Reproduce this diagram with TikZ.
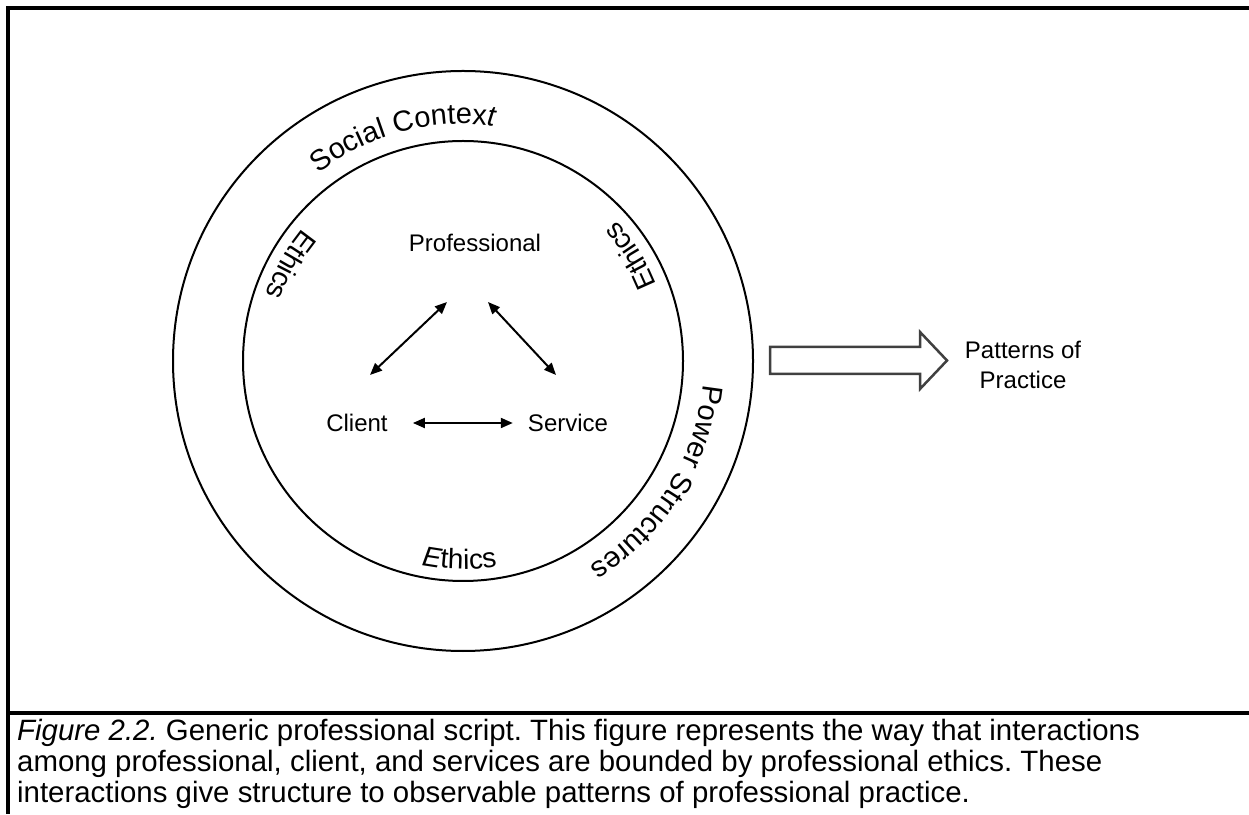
\documentclass[tikz,border=0pt]{standalone}
\usepackage{fontspec}
\setmainfont{Liberation Sans}
\usetikzlibrary{arrows.meta,decorations.text}
\newcommand{\ringfont}{\fontsize{29}{32}\selectfont}
\newcommand{\ethfont}{\fontsize{28}{30}\selectfont}
\frenchspacing
\begin{document}
\begin{tikzpicture}[x=1pt,y=1pt,
  frame/.style={line width=4pt},
  ring/.style={line width=2pt},
  lbl/.style={font=\fontsize{24}{30}\selectfont, inner sep=0pt},
  rel/.style={line width=2pt, {Triangle[length=12pt,width=10pt]}-{Triangle[length=12pt,width=10pt]}},
  captext/.style={font=\fontsize{29.4}{31}\selectfont, inner sep=0pt, anchor=base west},
  blockarrow/.style={line width=2.5pt, draw=black!75, fill=white, line join=miter}]
\useasboundingbox (0,0) rectangle (1249,814);
\draw[frame] (1249,806) -- (8,806) -- (8,0);
\draw[frame] (8,101) -- (1249,101);
\coordinate (c) at (463,453);
\draw[ring] (c) circle[radius=290];
\draw[ring] (c) circle[radius=220];
% outer ring texts
\path[decorate, decoration={text along path, text align=center,
  text={|\ringfont|Social Contex|\ringfont\itshape|t}}]
  ([shift={(150:237)}]c) arc[start angle=150, end angle=60, radius=237];
\path[decorate, decoration={text along path, text align=center,
  text={|\ringfont|Power Structures}}]
  ([shift={(13:241)}]c) arc[start angle=13, end angle=-77, radius=241];
% inner ring texts
\path[decorate, decoration={text along path, text align=center,
  text={|\ethfont|Ethics}}]
  ([shift={(121:208)}]c) arc[start angle=121, end angle=181, radius=208];
\path[decorate, decoration={text along path, text align=center,
  text={|\ethfont|Ethics}}]
  ([shift={(2:208)}]c) arc[start angle=2, end angle=62, radius=208];
\path[decorate, decoration={text along path, text align=center,
  text={|\ethfont\itshape|E|\ethfont|thics}}]
  ([shift={(239:208)}]c) arc[start angle=239, end angle=299, radius=208];
% nodes
\node[lbl] (prof) at (475,571) {Professional};
\node[lbl] (client) at (357,391) {Client};
\node[lbl] (serv) at (568,391) {Service};
\draw[rel] ([xshift=-28pt,yshift=-50pt]prof.south) -- ([xshift=13pt,yshift=39pt]client.north);
\draw[rel] ([xshift=13pt,yshift=-50pt]prof.south) -- ([xshift=-12pt,yshift=39pt]serv.north);
\draw[rel] ([xshift=25pt]client.east) -- ([xshift=-15pt]serv.west);
% block arrow
\draw[blockarrow] (770,440) -- (920,440) -- (920,425) -- (947,453.5) -- (920,482) -- (920,467) -- (770,467) -- cycle;
\node[lbl, align=center] (pat) at (1023,449) {Patterns of\\Practice};
% caption
\node[captext] (cap1) at (17,74) {\textit{Figure 2.2.} Generic professional script. This figure represents the way that interactions};
\node[captext] (cap2) at (17,43) {among professional, client, and services are bounded by professional ethics. These};
\node[captext] (cap3) at (17,12) {interactions give structure to observable patterns of professional practice.};
\end{tikzpicture}
\end{document}
